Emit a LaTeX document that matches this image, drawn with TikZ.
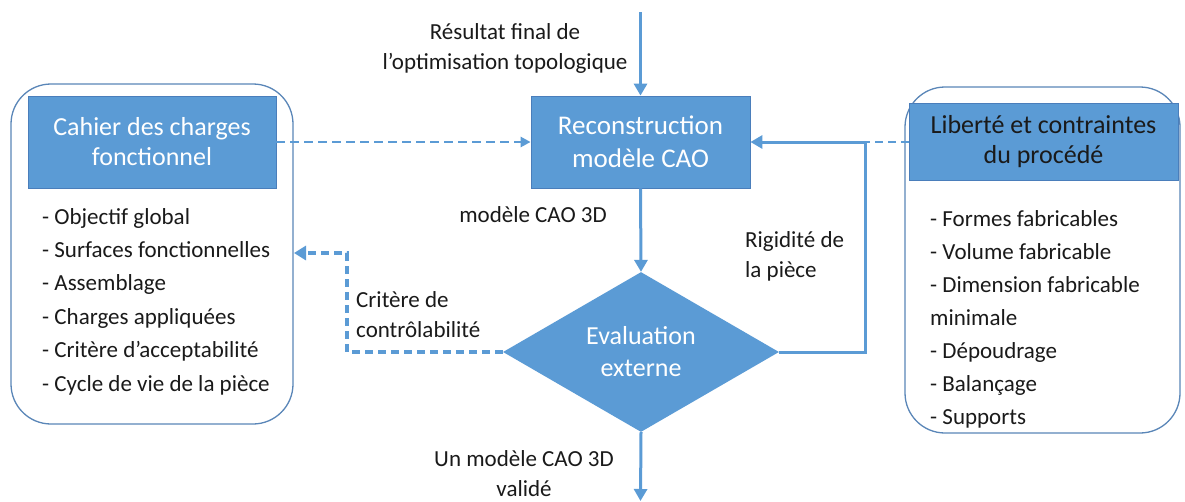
\documentclass[tikz,border=0pt]{standalone}
\usepackage{fontspec}
\setmainfont{Carlito}
\usetikzlibrary{arrows.meta,shapes.geometric}
\definecolor{blu}{HTML}{5B9BD5}
\definecolor{bord}{HTML}{5A86B8}
\definecolor{hbord}{HTML}{4A7EBB}
\definecolor{txt}{HTML}{1A1A1A}
\begin{document}
\begin{tikzpicture}[x=1pt,y=-1pt,
  hdr/.style={rectangle, fill=blu, draw=hbord, line width=0.8pt, text=white,
    font=\fontsize{26}{30}\selectfont, align=center, inner sep=0pt},
  panel/.style={rectangle, draw=bord, line width=1.3pt, rounded corners=40pt, inner sep=0pt},
  arr/.style={blu, line width=3pt, -{Triangle[length=12pt,width=13pt]}},
  dasharr/.style={blu, line width=3.4pt, dash pattern=on 8pt off 5pt, -{Triangle[length=12pt,width=14pt]}},
  thindash/.style={blu, line width=2.8pt, dash pattern=on 9pt off 5pt, -{Triangle[length=10pt,width=10pt]}},
  dashline/.style={blu, line width=2.2pt, dash pattern=on 8pt off 5pt},
  lbl/.style={text=txt, font=\fontsize{23}{30}\selectfont, inner sep=0pt},
  item/.style={text=txt, font=\fontsize{23}{30}\selectfont, inner sep=0pt, anchor=base west}
]
\useasboundingbox (0,0) rectangle (1185,501);
\fill[white] (0,0) rectangle (1185,501);

% panels
\node[panel, minimum width=282pt, minimum height=340pt] (lbox) at (152,254) {};
\node[panel, minimum width=275pt, minimum height=346pt] (rbox) at (1042.5,260) {};

% headers
\node[hdr, minimum width=248pt, minimum height=92pt] (cdc) at (152,142) {Cahier des charges\\fonctionnel};
\node[hdr, text=txt, minimum width=269pt, minimum height=77pt] (lib) at (1043.5,142) {Libert\'e et contraintes\\du proc\'ed\'e};
\node[hdr, font=\fontsize{27}{33}\selectfont, minimum width=219pt, minimum height=92pt] (rec) at (640.5,142) {Reconstruction\\mod\`ele CAO};
\node[diamond, fill=blu, text=white, inner sep=0pt, minimum width=276pt, minimum height=145pt,
  font=\fontsize{26}{32}\selectfont, align=center] (eval) at (641,352) {Evaluation\\externe};

% lists
\node[item] (l1) at (42,224) {- Objectif global};
\node[item] (l2) at (42,257.4) {- Surfaces fonctionnelles};
\node[item] (l3) at (42,290.8) {- Assemblage};
\node[item] (l4) at (42,324.2) {- Charges appliqu\'ees};
\node[item] (l5) at (42,357.6) {- Crit\`ere d’acceptabilit\'e};
\node[item] (l6) at (42,391) {- Cycle de vie de la pi\`ece};

\node[item] (r1) at (930,226) {- Formes fabricables};
\node[item] (r2) at (930,259) {- Volume fabricable};
\node[item] (r3) at (930,292) {- Dimension fabricable};
\node[item] (r4) at (930,325) {minimale};
\node[item] (r5) at (930,358) {- D\'epoudrage};
\node[item] (r6) at (930,391) {- Balan\c{c}age};
\node[item] (r7) at (930,424) {- Supports};

% labels
\node[lbl, align=center] (res) at (505,48) {R\'esultat final de\\l’optimisation topologique};
\node[lbl] (mod) at (533,215) {mod\`ele CAO 3D};
\node[lbl, align=left, anchor=west] (rig) at (745,256) {Rigidit\'e de\\la pi\`ece};
\node[lbl, align=left, anchor=west] (crit) at (356,315) {Crit\`ere de\\contr\^olabilit\'e};
\node[lbl, align=center] (valid) at (524,474) {Un mod\`ele CAO 3D\\valid\'e};

% coordinates
\coordinate (top) at (640.5,12);
\coordinate (bot) at (640.5,501);
\coordinate (cR) at (865,142);
\coordinate (cA) at (347,352);
\coordinate (cB) at (347,253);
\coordinate (tL) at (294,253);

% connectors
\draw[arr] (top) -- (rec.north);
\draw[arr] (rec.south) -- (eval.north);
\draw[arr] (eval.south) -- (bot);
\draw[thindash] (cdc.east) -- (rec.west);
\draw[arr] (eval.east) -| (cR) -- (rec.east);
\draw[dashline] (lib.west) -- (cR);
\draw[dasharr] (eval.west) -- (cA) -- (cB) -- (tL);
\end{tikzpicture}
\end{document}
